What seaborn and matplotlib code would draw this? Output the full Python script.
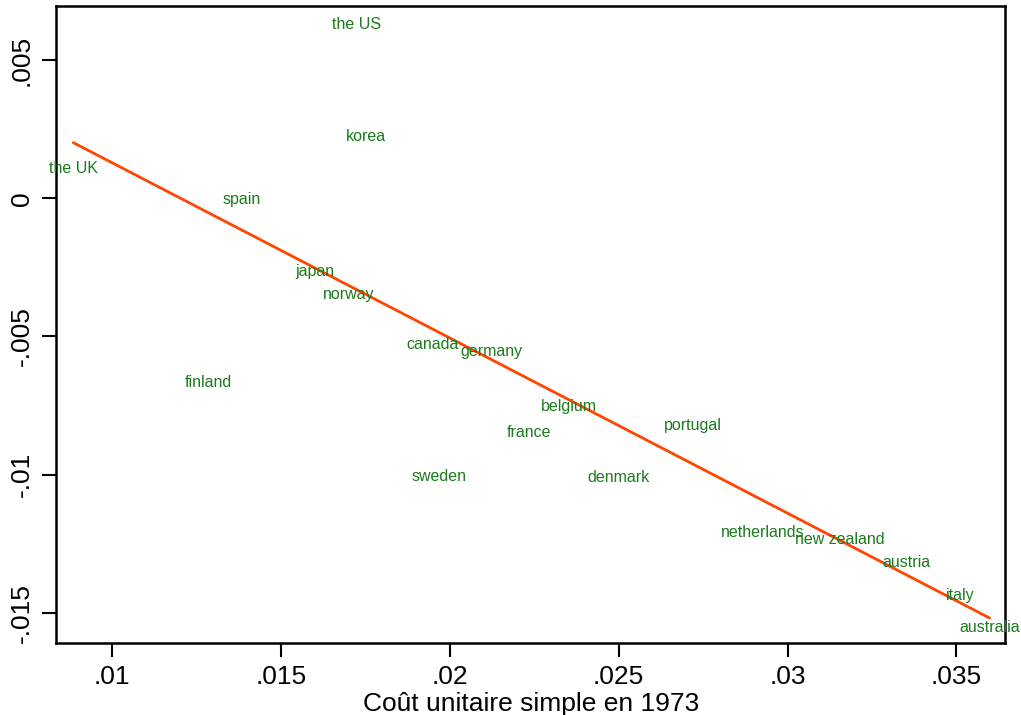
import matplotlib
matplotlib.use("Agg")
import matplotlib.pyplot as plt
import seaborn as sns
import numpy as np
import pandas as pd

countries = ["the US", "korea", "the UK", "spain", "japan", "norway", "canada",
             "germany", "finland", "belgium", "portugal", "france", "sweden",
             "denmark", "netherlands", "new zealand", "austria", "italy", "australia"]
cout_1973 = [0.01725, 0.01752, 0.00886, 0.01383, 0.01601, 0.01702, 0.01950,
             0.02124, 0.01285, 0.02354, 0.02720, 0.02236, 0.01970,
             0.02499, 0.02926, 0.03154, 0.03352, 0.03511, 0.03598]
residual = [0.00631, 0.00223, 0.00107, -0.00005, -0.00265, -0.00348, -0.00528,
            -0.00554, -0.00665, -0.00752, -0.00821, -0.00846, -0.01008,
            -0.01012, -0.01211, -0.01236, -0.01319, -0.01438, -0.01554]

xticks = [0.01, 0.015, 0.02, 0.025, 0.03, 0.035]
xtick_labels = [".01", ".015", ".02", ".025", ".03", ".035"]
yticks = [0.005, 0.0, -0.005, -0.01, -0.015]
ytick_labels = [".005", "0", "-.005", "-.01", "-.015"]

df = pd.DataFrame({"country": countries, "x": cout_1973, "y": residual})

sns.set_theme(style="white")
plt.rcParams["font.family"] = ["Liberation Sans", "DejaVu Sans"]

fig = plt.figure(figsize=(10.21, 7.15), dpi=100)
ax = fig.add_axes([0.0549, 0.1007, 0.9299, 0.8903])

sns.regplot(data=df, x="x", y="y", ax=ax, scatter=False, ci=None,
            truncate=True, line_kws={"color": "#ff4500", "lw": 2.0})

for _, r in df.iterrows():
    ax.text(r["x"], r["y"], r["country"], color="#1b7a1b", fontsize=11.5,
            ha="center", va="center", clip_on=False, zorder=5)

ax.set_xlim(0.00835, 0.03645)
ax.set_ylim(-0.01610, 0.00695)
ax.set_xticks(xticks)
ax.set_xticklabels(xtick_labels)
ax.set_yticks(yticks)
ax.set_yticklabels(ytick_labels, rotation=90, va="center")
ax.tick_params(axis="both", which="major", direction="out", length=10, width=1.5,
               labelsize=19, colors="black", bottom=True, left=True, pad=6)
ax.set_xlabel("Coût unitaire simple en 1973", fontsize=19, labelpad=2, color="black")
ax.set_ylabel("")
for s in ax.spines.values():
    s.set_color("black")
    s.set_linewidth(1.8)

fig.savefig("out.png", dpi=100)
